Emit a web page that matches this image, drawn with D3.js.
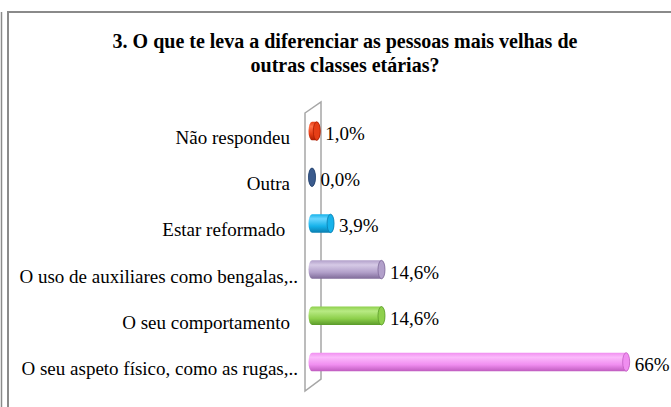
<!DOCTYPE html>
<html>
<head>
<meta charset="utf-8">
<script src="https://cdn.jsdelivr.net/npm/d3@7"></script>
<style>
  body { margin: 0; background: #fff; }
  svg { display: block; }
  svg text { font-family: "Liberation Serif", "Times New Roman", "DejaVu Serif", serif; }
</style>
</head>
<body>
<script>
// chart data
var titleLines = ["3. O que te leva a diferenciar as pessoas mais velhas de", "outras classes etárias?"];
var categories = ["Não respondeu", "Outra", "Estar reformado ", "O uso de auxiliares como bengalas,..", "O seu comportamento", "O seu aspeto físico, como as rugas,.."];
var values = [1.0, 0.0, 3.9, 14.6, 14.6, 66];
var valueLabels = ["1,0%", "0,0%", "3,9%", "14,6%", "14,6%", "66%"];

// colours: base, light, dark
var palette = [
  ["#e63e16", "#ff7048", "#a81c00"],
  ["#3a5a8c", "#5a7cae", "#22406c"],
  ["#16b2ea", "#6ad6ff", "#0a7eb0"],
  ["#b2a0ca", "#d6cae6", "#7e6a98"],
  ["#8ed04c", "#b8ea84", "#5a9a2a"],
  ["#f08ef0", "#fbbafb", "#c05cc0"]
];

var W = 671, H = 407;

var svg = d3.select("body").append("svg")
    .attr("width", W)
    .attr("height", H);

// frame
svg.append("line").attr("x1", 1.5).attr("x2", 1.5).attr("y1", 12).attr("y2", H)
    .attr("stroke", "#8a8a8a").attr("stroke-width", 1.5);
svg.append("path").attr("d", "M8," + H + "V12H" + W)
    .attr("fill", "none").attr("stroke", "#8a8a8a").attr("stroke-width", 2);

// title
svg.append("text")
    .attr("x", 345).attr("y", 48)
    .attr("text-anchor", "middle")
    .style("font-weight", "bold")
    .style("font-size", "20px")
    .selectAll("tspan")
    .data(titleLines)
    .enter().append("tspan")
    .attr("x", 345)
    .attr("dy", function(d, i) { return i ? 24 : 0; })
    .text(function(d) { return d; });

var x = d3.scaleLinear().domain([0, 70]).range([312, 312 + 70 * 4.76]);
var y = d3.scaleBand().domain(categories).range([108, 385])
    .paddingInner(0.6).paddingOuter(0.3);

var bw = y.bandwidth(), rx = 3.5;

// back wall (3D)
var wl = x(0) - 7, wr = x(0) + 9;
svg.append("path")
    .attr("d", "M" + wl + ",113 L" + wr + ",102 L" + wr + ",379 L" + wl + ",391 Z")
    .attr("fill", "none")
    .attr("stroke", "#a6a6a6")
    .attr("stroke-width", 1.5);

// gradients
var defs = svg.append("defs");
palette.forEach(function(c, i) {
  var g = defs.append("linearGradient").attr("id", "g" + i)
      .attr("x1", 0).attr("y1", 0).attr("x2", 0).attr("y2", 1);
  g.append("stop").attr("offset", "0%").attr("stop-color", c[0]);
  g.append("stop").attr("offset", "25%").attr("stop-color", c[1]);
  g.append("stop").attr("offset", "65%").attr("stop-color", c[0]);
  g.append("stop").attr("offset", "100%").attr("stop-color", c[2]);
});

var bars = svg.selectAll("g.bar")
    .data(values)
    .enter().append("g")
    .attr("class", "bar");

bars.append("path")
    .attr("d", function(d, i) {
      var x0 = x(0), x1 = x(d), y0 = y(categories[i]), y1 = y0 + bw;
      return "M" + x0 + "," + y0 + " L" + x1 + "," + y0 +
             " A" + rx + "," + (bw / 2) + " 0 0 1 " + x1 + "," + y1 +
             " L" + x0 + "," + y1 +
             " A" + rx + "," + (bw / 2) + " 0 0 1 " + x0 + "," + y0 + " Z";
    })
    .attr("fill", function(d, i) { return "url(#g" + i + ")"; });

// end caps
bars.append("ellipse")
    .attr("cx", function(d) { return x(d); })
    .attr("cy", function(d, i) { return y(categories[i]) + bw / 2; })
    .attr("rx", rx)
    .attr("ry", bw / 2)
    .attr("fill", function(d, i) { return palette[i][0]; })
    .attr("stroke", function(d, i) { return palette[i][2]; })
    .attr("stroke-width", 0.8);

// value labels
bars.append("text")
    .attr("x", function(d) { return x(d) + rx + 5; })
    .attr("y", function(d, i) { return y(categories[i]) + bw / 2 + 9; })
    .style("font-size", "19px")
    .attr("fill", "#000")
    .text(function(d, i) { return valueLabels[i]; });

// category labels (truncated ones run a bit further right, as Excel does)
svg.selectAll("text.cat")
    .data(categories)
    .enter().append("text")
    .attr("class", "cat")
    .attr("x", function(d) { return d.slice(-2) === ".." ? 298 : 290; })
    .attr("y", function(d) { return y(d) + bw / 2 + 13; })
    .attr("text-anchor", "end")
    .style("white-space", "pre")
    .style("font-size", "19px")
    .attr("fill", "#000")
    .text(function(d) { return d; });
</script>
</body>
</html>
